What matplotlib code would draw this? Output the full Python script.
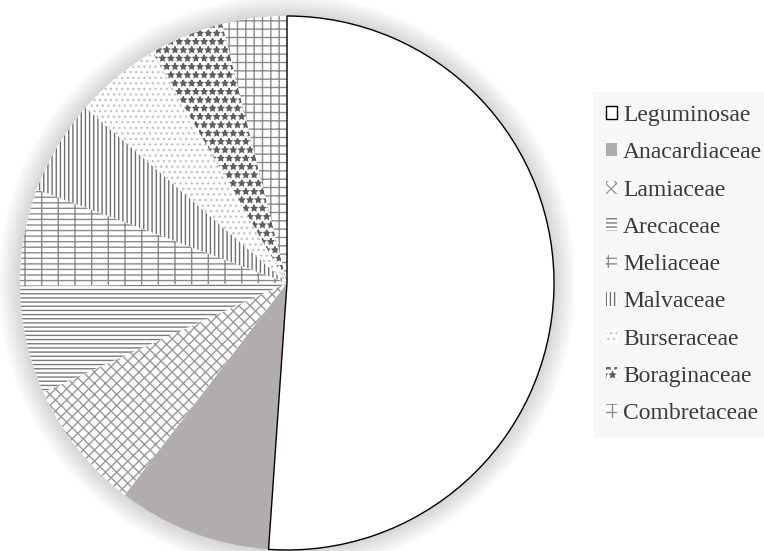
import matplotlib
matplotlib.use("Agg")
from matplotlib import pyplot as plt
from matplotlib.patches import Circle

families = ["Leguminosae", "Anacardiaceae", "Lamiaceae", "Arecaceae", "Meliaceae",
            "Malvaceae", "Burseraceae", "Boraginaceae", "Combretaceae"]
shares = [51.1, 9.3, 7.9, 6.5, 5.9, 5.7, 5.2, 4.5, 3.9]

hatches = [None, None, "xxx", "----", "---|", "||||", "...", "**", "++"]
faces = ["white", "#b1adac", "white", "white", "white", "white", "white", "white", "white"]
edges = ["black", "#b1adac", "#9a9a9a", "#7a7a7a", "#8a8a8a", "#6e6e6e", "#c4c4c4", "#5e5e5e", "#8a8a8a"]

plt.rcParams["hatch.linewidth"] = 1.0

fig = plt.figure(figsize=(7.64, 5.51), dpi=100)
ax = fig.add_axes([0, 0, 1, 1])

cx, cy, r = 287, 268, 267

# soft glow around the pie
for i in range(14):
    ax.add_patch(Circle((cx, cy), r + 1 + i * 1.6, color="black", alpha=0.010, lw=0, zorder=0))
ax.add_patch(Circle((cx, cy), r, color="white", lw=0, zorder=0.5))

wedges, _ = ax.pie(shares, center=(cx, cy), radius=r, startangle=90, counterclock=False,
                   frame=True)
for w, h, fc, ec in zip(wedges, hatches, faces, edges):
    w.set_facecolor(fc)
    w.set_edgecolor(ec)
    w.set_hatch(h)
    w.set_linewidth(1.0 if ec == "black" else 0)
    w.set_zorder(1)
wedges[0].set_zorder(2)
ax.set_xlim(0, 764)
ax.set_ylim(0, 551)
ax.set_aspect("equal")
ax.axis("off")

leg = ax.legend(wedges, families, loc="upper left", bbox_to_anchor=(593 / 764, 1 - 92 / 551),
                borderaxespad=0, frameon=True, fancybox=False, facecolor="#f7f7f7",
                edgecolor="none", framealpha=1, borderpad=0.55, handlelength=0.48,
                handleheight=0.48, handletextpad=0.25, labelspacing=0.69,
                prop={"family": "Liberation Serif", "size": 17})
for t in leg.get_texts():
    t.set_color("#3a3a3a")

fig.savefig("out.png", dpi=100)
